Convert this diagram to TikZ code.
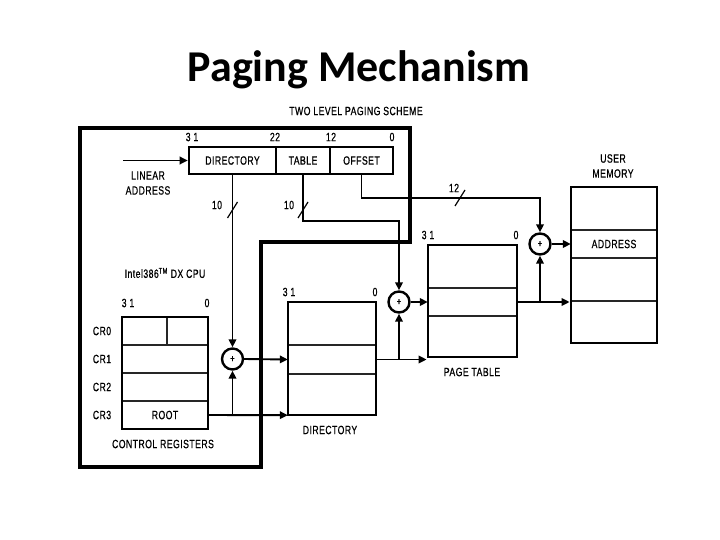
\documentclass[tikz,border=0pt]{standalone}
\usepackage{fontspec}
\usetikzlibrary{arrows.meta}
\newfontfamily\titlefont{Carlito}
\newfontfamily\dg[FakeStretch=0.72,LetterSpace=4,FakeBold=0.7]{Liberation Sans}
\begin{document}
\begin{tikzpicture}[x=1pt,y=-1pt,
  lbl/.style={font=\dg\fontsize{12}{12}\selectfont, inner sep=0pt},
  field/.style={draw, line width=2.6pt, inner sep=0pt, font=\dg\fontsize{12}{12}\selectfont},
  outer/.style={draw, line width=2.8pt, inner sep=0pt},
  row/.style={inner sep=0pt, font=\dg\fontsize{12}{12}\selectfont},
  rowline/.style={line width=1.8pt, black!85},
  adder/.style={draw, circle, line width=2.4pt, minimum size=21pt, inner sep=0pt, font=\dg\fontsize{10}{10}\selectfont},
  conn/.style={line width=1.9pt},
  arr/.style={conn, -{Triangle[length=8pt,width=7.5pt]}},
  tickmark/.style={line width=1.2pt}
]
\useasboundingbox (0,0) rectangle (720,540);

% title
\node[font=\titlefont\bfseries\fontsize{44}{50}\selectfont, anchor=base, inner sep=0pt] (title) at (359,82) {Paging Mechanism};

% CPU outline
\draw[line width=3.2pt] (80,128) -- (410,128) -- (410,242) -- (261,242) -- (261,467) -- (80,467) -- cycle;

\node[lbl] (scheme) at (356,111) {TWO LEVEL PAGING SCHEME};

% linear address
\node[field, minimum width=87pt, minimum height=27pt] (dirf) at (232.5,160.5) {DIRECTORY};
\node[field, minimum width=54pt, minimum height=27pt] (tabf) at (303,160.5) {TABLE};
\node[field, minimum width=63pt, minimum height=27pt] (offf) at (361.5,160.5) {OFFSET};
\node[lbl] (b31) at (192,137) {3 1};
\node[lbl] (b22) at (275,137) {22};
\node[lbl] (b12) at (331,137) {12};
\node[lbl] (b0) at (392,137) {0};
\node[lbl, align=center] (linl) at (148,183) {LINEAR\\[3pt]ADDRESS};
\coordinate (lain) at (123,160.5);

\node[lbl] (intel) at (165,273) {Intel386\textsuperscript{TM} DX CPU};

% control registers
\node[row, minimum width=86pt, minimum height=28pt] (cr0) at (165,331) {};
\node[row, minimum width=86pt, minimum height=28pt] (cr1) at (165,359) {};
\node[row, minimum width=86pt, minimum height=28pt] (cr2) at (165,387) {};
\node[row, minimum width=86pt, minimum height=28pt] (cr3) at (165,415) {ROOT};
\draw[rowline] (cr0.south west) -- (cr0.south east);
\draw[rowline] (cr1.south west) -- (cr1.south east);
\draw[rowline] (cr2.south west) -- (cr2.south east);
\draw[rowline] (167,317) -- (167,345);
\node[outer, minimum width=86pt, minimum height=112pt] (crbox) at (165,373) {};
\node[lbl] (lcr0) at (102,331) {CR0};
\node[lbl] (lcr1) at (102,359) {CR1};
\node[lbl] (lcr2) at (102,387) {CR2};
\node[lbl] (lcr3) at (102,415) {CR3};
\node[lbl] (c31) at (128,303) {3 1};
\node[lbl] (c0) at (207,303) {0};
\node[lbl] (crl) at (163,444) {CONTROL REGISTERS};

% directory
\node[row, minimum width=88pt, minimum height=43pt] (dr1) at (332,323.5) {};
\node[row, minimum width=88pt, minimum height=29pt] (dr2) at (332,359.5) {};
\node[row, minimum width=88pt, minimum height=41pt] (dr3) at (332,394.5) {};
\draw[rowline] (dr1.south west) -- (dr1.south east);
\draw[rowline] (dr2.south west) -- (dr2.south east);
\node[outer, minimum width=88pt, minimum height=113pt] (dir) at (332,358.5) {};
\node[lbl] (d31) at (289,292) {3 1};
\node[lbl] (d0) at (375,292) {0};
\node[lbl] (dirl) at (330,430) {DIRECTORY};

% page table
\node[row, minimum width=89pt, minimum height=43pt] (ptr1) at (472.5,266.5) {};
\node[row, minimum width=89pt, minimum height=28pt] (ptr2) at (472.5,302) {};
\node[row, minimum width=89pt, minimum height=41pt] (ptr3) at (472.5,336.5) {};
\draw[rowline] (ptr1.south west) -- (ptr1.south east);
\draw[rowline] (ptr2.south west) -- (ptr2.south east);
\node[outer, minimum width=89pt, minimum height=112pt] (pt) at (472.5,301) {};
\node[lbl] (p31) at (428,235) {3 1};
\node[lbl] (p0) at (516,235) {0};
\node[lbl] (ptl) at (472,372) {PAGE TABLE};

% user memory
\node[row, minimum width=86pt, minimum height=43pt] (umr1) at (614,208.5) {};
\node[row, minimum width=86pt, minimum height=28pt] (umr2) at (614,244) {ADDRESS};
\node[row, minimum width=86pt, minimum height=43pt] (umr3) at (614,279.5) {};
\node[row, minimum width=86pt, minimum height=42pt] (umr4) at (614,322) {};
\draw[rowline] (umr1.south west) -- (umr1.south east);
\draw[rowline] (umr2.south west) -- (umr2.south east);
\draw[rowline] (umr3.south west) -- (umr3.south east);
\node[outer, minimum width=86pt, minimum height=156pt] (um) at (614,265) {};
\node[lbl, align=center] (uml) at (613,166) {USER\\[3pt]MEMORY};

% adders
\node[adder] (add1) at (232.5,359) {+};
\node[adder] (add2) at (399,302) {+};
\node[adder] (add3) at (540,244) {+};

% connectors
\draw[arr] (lain) -- (dirf.west);
\draw[arr] (dirf.south) -- (add1.north);
\coordinate (tturn) at (303,221);
\draw[arr] (tabf.south) -- (tturn) -| (add2.north);
\coordinate (oturn) at (361.5,198);
\draw[arr] (offf.south) -- (oturn) -| (add3.north);

\draw[arr] (cr3.east) -- (dr3.south west);
\draw[arr] (add1 |- cr3.east) -- (add1.south);
\draw[arr] (add1.east) -- (dr2.west);

\draw[arr] (dr2.east) -- (dr2.east -| pt.west);
\draw[arr] (add2 |- dr2.east) -- (add2.south);
\draw[arr] (add2.east) -- (ptr2.west);

\draw[arr] (ptr2.east) -- (ptr2.east -| um.west);
\draw[arr] (add3 |- ptr2.east) -- (add3.south);
\draw[arr] (add3.east) -- (umr2.west);

% bus width ticks
\draw[tickmark] (227.5,218) -- (237.5,202);
\node[lbl] (w1) at (217,205) {10};
\draw[tickmark] (298,218) -- (308,202);
\node[lbl] (w2) at (289,205) {10};
\draw[tickmark] (455,206) -- (465,190);
\node[lbl] (w3) at (454,188) {12};
\end{tikzpicture}
\end{document}
